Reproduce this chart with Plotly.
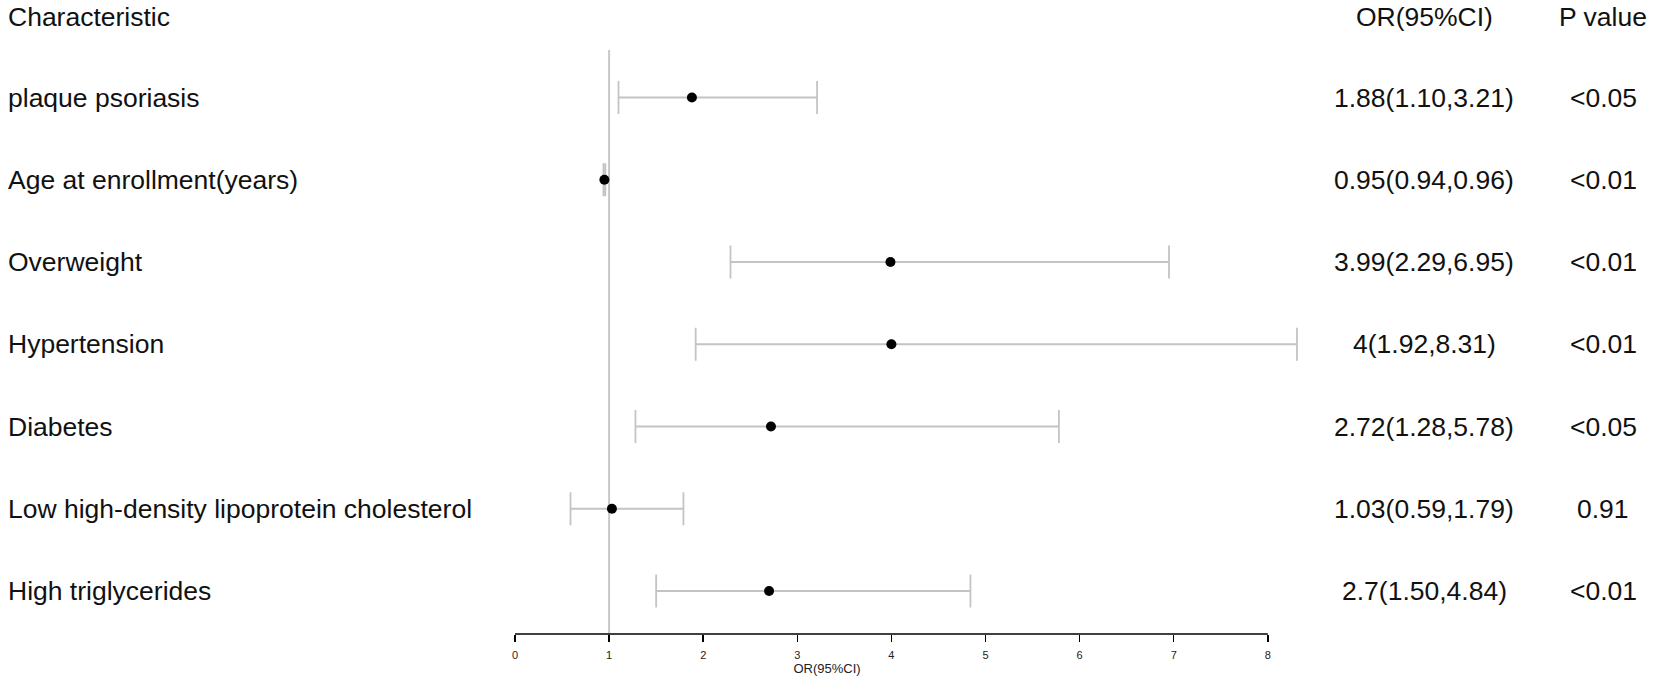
import plotly.graph_objects as go

# ---- data ----
characteristics = [
    "plaque psoriasis",
    "Age at enrollment(years)",
    "Overweight",
    "Hypertension",
    "Diabetes",
    "Low high-density lipoprotein cholesterol",
    "High triglycerides",
]
or_values = [1.88, 0.95, 3.99, 4, 2.72, 1.03, 2.7]
ci_lower = [1.10, 0.94, 2.29, 1.92, 1.28, 0.59, 1.50]
ci_upper = [3.21, 0.96, 6.95, 8.31, 5.78, 1.79, 4.84]
or_labels = [
    "1.88(1.10,3.21)",
    "0.95(0.94,0.96)",
    "3.99(2.29,6.95)",
    "4(1.92,8.31)",
    "2.72(1.28,5.78)",
    "1.03(0.59,1.79)",
    "2.7(1.50,4.84)",
]
p_labels = ["<0.05", "<0.01", "<0.01", "<0.01", "<0.05", "0.91", "<0.01"]
tick_values = [0, 1, 2, 3, 4, 5, 6, 7, 8]
reference_value = 1
headers = ["Characteristic", "OR(95%CI)", "P value"]

# ---- layout constants (pixels) ----
W, H = 1654, 692
X0_PX, X_SCALE = 515.0, 94.1          # pixel of x=0, px per unit
ROW0_PX, ROW_STEP = 97.5, 82.25       # pixel of first row, row spacing
AXIS_PX = 634                         # x-axis line pixel
REF_TOP_PX = 50
HEADER_PX = 17
LABEL_X_PX = 6
OR_COL_PX = 1424
P_COL_PX = 1603
FONT = "Liberation Sans, Arial, sans-serif"
TEXT_COLOR = "#111111"
FS_LABEL = 26.5
FS_COL = 26.5

x_range = [(0 - X0_PX) / X_SCALE, (W - X0_PX) / X_SCALE]
y_top = (0 - ROW0_PX) / ROW_STEP
y_bottom = (AXIS_PX - ROW0_PX) / ROW_STEP
header_y = (HEADER_PX - ROW0_PX) / ROW_STEP
rows = list(range(len(characteristics)))

fig = go.Figure()
fig.add_trace(go.Scatter(
    x=or_values,
    y=rows,
    mode="markers",
    marker=dict(color="black", size=10, symbol="circle"),
    error_x=dict(
        type="data",
        symmetric=False,
        array=[u - o for u, o in zip(ci_upper, or_values)],
        arrayminus=[o - l for o, l in zip(or_values, ci_lower)],
        color="#c4c4c4",
        thickness=1.8,
        width=16.5,
    ),
    cliponaxis=False,
    showlegend=False,
    hoverinfo="skip",
))


def txt(x_px, y, text, anchor, size):
    return dict(x=x_px / W, y=y, xref="paper", yref="y", text=text,
                xanchor=anchor, yanchor="middle", showarrow=False,
                font=dict(size=size, color=TEXT_COLOR, family=FONT))


annotations = [
    txt(LABEL_X_PX, header_y, headers[0], "left", FS_LABEL),
    txt(OR_COL_PX, header_y, headers[1], "center", FS_COL),
    txt(P_COL_PX, header_y, headers[2], "center", FS_COL),
]
for r, name, orl, pl in zip(rows, characteristics, or_labels, p_labels):
    annotations.append(txt(LABEL_X_PX, r, name, "left", FS_LABEL))
    annotations.append(txt(OR_COL_PX, r, orl, "center", FS_COL))
    annotations.append(txt(P_COL_PX, r, pl, "center", FS_COL))

shapes = [
    # reference line at OR = 1
    dict(type="line", xref="x", yref="y",
         x0=reference_value, x1=reference_value,
         y0=(REF_TOP_PX - ROW0_PX) / ROW_STEP, y1=y_bottom,
         line=dict(color="#c8c8c8", width=2), layer="below"),
    # axis line spanning ticks
    dict(type="line", xref="x", yref="y domain",
         x0=tick_values[0], x1=tick_values[-1], y0=0, y1=0,
         line=dict(color="black", width=1.5)),
]

fig.update_layout(
    width=W, height=H,
    margin=dict(l=0, r=0, t=0, b=0),
    paper_bgcolor="white", plot_bgcolor="white",
    annotations=annotations,
    shapes=shapes,
    hovermode=False,
    xaxis=dict(
        domain=[0, 1], range=x_range,
        tickvals=tick_values, ticktext=[str(v) for v in tick_values],
        ticks="outside", ticklen=7, tickwidth=1.5, tickcolor="black",
        ticklabelstandoff=4,
        showline=False, showgrid=False, zeroline=False,
        tickfont=dict(size=11, color="#222222", family=FONT),
        title=dict(text="OR(95%CI)", font=dict(size=13, color="#222222", family=FONT), standoff=2),
        automargin=False,
    ),
    yaxis=dict(
        domain=[(H - AXIS_PX) / H, 1],
        range=[y_bottom, y_top],
        visible=False, showgrid=False, zeroline=False,
    ),
)

fig.write_html(
    "out.html",
    config={"displayModeBar": False, "staticPlot": True},
    post_script="document.body.style.margin='0';document.body.style.overflow='hidden';",
)
